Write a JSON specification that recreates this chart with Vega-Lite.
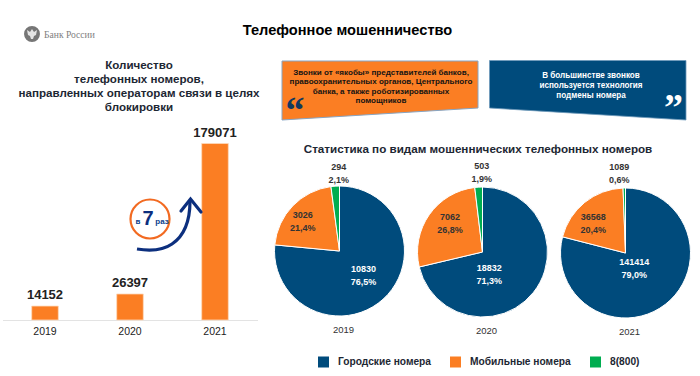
{
"$schema":"https://vega.github.io/schema/vega-lite/v6.json",
"width":700,"height":376,"padding":0,"autosize":{"type":"none"},"background":"#ffffff",
"config":{"view":{"stroke":null},"font":"Liberation Sans","text":{"font":"Liberation Sans"}},
"data":{"values":[{"note":"annotation"}]},
"datasets":{
"bars":[{"year":"2019","count":14152},{"year":"2020","count":26397},{"year":"2021","count":179071}],
"pies":[
{"year":"2019","kind":"Городские номера","rank":1,"slice":"2019-1","count":10830,"pct":76.5,"label":"10830\n76,5%"},
{"year":"2019","kind":"Мобильные номера","rank":2,"slice":"2019-2","count":3026,"pct":21.4,"label":"3026\n21,4%"},
{"year":"2019","kind":"8(800)","rank":3,"slice":"2019-3","count":294,"pct":2.1,"label":"294\n2,1%"},
{"year":"2020","kind":"Городские номера","rank":1,"slice":"2020-1","count":18832,"pct":71.3,"label":"18832\n71,3%"},
{"year":"2020","kind":"Мобильные номера","rank":2,"slice":"2020-2","count":7062,"pct":26.8,"label":"7062\n26,8%"},
{"year":"2020","kind":"8(800)","rank":3,"slice":"2020-3","count":503,"pct":1.9,"label":"503\n1,9%"},
{"year":"2021","kind":"Городские номера","rank":1,"slice":"2021-1","count":141414,"pct":79.0,"label":"141414\n79,0%"},
{"year":"2021","kind":"Мобильные номера","rank":2,"slice":"2021-2","count":36568,"pct":20.4,"label":"36568\n20,4%"},
{"year":"2021","kind":"8(800)","rank":3,"slice":"2021-3","count":1089,"pct":0.6,"label":"1089\n0,6%"}
]},
"resolve":{"scale":{"x":"independent","y":"independent","theta":"independent","color":"independent"},"axis":{"x":"independent","y":"independent"}},
"layer":[
{"mark":{"type":"rule","x":699.5,"y":0,"y2":376,"stroke":"#e6e6e6","strokeWidth":1},"encoding":{}},
{"mark":{"type":"rule","x":33,"x2":667,"y":52,"stroke":"#f57c20","strokeWidth":2},"encoding":{}},
{"mark":{"type":"point","shape":"circle","x":32,"y":34,"size":254,"filled":true,"fill":"#767676","opacity":1,"stroke":null},"encoding":{}},
{"mark":{"type":"point","shape":"M-5,-4 L-2,-2 L0,-5 L2,-2 L5,-4 L4,1 L2,2 L1,5 L-1,5 L-2,2 L-4,1 Z","x":32,"y":34,"size":4,"filled":true,"fill":"#e4e4e4","opacity":1,"stroke":null},"encoding":{}},
{"mark":{"type":"text","text":"Банк России","x":44,"y":34.5,"align":"left","baseline":"middle","font":"Liberation Serif","fontSize":9.6,"fill":"#808080"},"encoding":{}},
{"mark":{"type":"text","text":"Телефонное мошенничество","x":347.5,"y":31,"align":"center","baseline":"middle","fontSize":14.6,"fontWeight":"bold","fill":"#000000"},"encoding":{}},
{"mark":{"type":"text","text":["Количество","телефонных номеров,","направленных операторам связи в целях","блокировки"],"x":139,"y":66,"align":"center","baseline":"middle","lineHeight":14,"fontSize":11.6,"fontWeight":"bold","fill":"#1d2733"},"encoding":{}},
{"mark":{"type":"point","shape":"M282,61 L478,61 L478,108 L282,120 Z","x":0,"y":0,"size":4,"filled":true,"fill":"#fb7e23","opacity":1,"stroke":"#86a5c4","strokeWidth":1},"encoding":{}},
{"mark":{"type":"point","shape":"M489.5,60.5 L686,60.5 L686,120 L489.5,108 Z","x":0,"y":0,"size":4,"filled":true,"fill":"#004b7c","opacity":1,"stroke":"#6f9abb","strokeWidth":0.8},"encoding":{}},
{"mark":{"type":"text","text":["Звонки от «якобы» представителей банков,","правоохранительных органов, Центрального","банка, а также роботизированных","помощников"],"x":381,"y":72.7,"align":"center","baseline":"middle","lineHeight":9.6,"fontSize":8.05,"fontWeight":"bold","fill":"#141414"},"encoding":{}},
{"mark":{"type":"text","text":["В большинстве звонков","используется технология","подмены номера"],"x":591,"y":75.7,"align":"center","baseline":"middle","lineHeight":10,"fontSize":8.15,"fontWeight":"bold","fill":"#ffffff"},"encoding":{}},
{"mark":{"type":"text","text":"“","x":295,"y":112,"align":"center","baseline":"middle","font":"Liberation Serif","fontSize":38,"fontWeight":"bold","fill":"#12395f"},"encoding":{}},
{"mark":{"type":"text","text":"”","x":673.5,"y":109,"align":"center","baseline":"middle","font":"Liberation Serif","fontSize":38,"fontWeight":"bold","fill":"#ffffff"},"encoding":{}},
{"mark":{"type":"text","text":"Статистика по видам мошеннических телефонных номеров","x":478,"y":149.5,"align":"center","baseline":"middle","fontSize":11.66,"fontWeight":"bold","fill":"#1d2733"},"encoding":{}},
{"data":{"name":"bars"},"mark":{"type":"bar","fill":"#fb7e23","stroke":"#fdd9bd","strokeWidth":0.8},
 "encoding":{
  "x":{"field":"year","type":"nominal","sort":null,"scale":{"type":"band","domain":["2019","2020","2021"],"range":[2.5,257.5],"paddingInner":0.687,"paddingOuter":0.3435},"axis":{"title":null,"offset":-56,"ticks":false,"domainColor":"#e3e3e3","domainWidth":1,"labelAngle":0,"labelColor":"#222222","labelFontSize":10.5,"labelPadding":6,"labelFont":"Liberation Sans","grid":false}},
  "y":{"field":"count","type":"quantitative","scale":{"domain":[0,179071],"range":[320,143.5]},"axis":null}}},
{"data":{"name":"bars"},"mark":{"type":"text","dy":-11,"baseline":"middle","align":"center","fontSize":13,"fontWeight":"bold","fill":"#222222"},
 "encoding":{
  "x":{"field":"year","type":"nominal","scale":{"type":"band","domain":["2019","2020","2021"],"range":[2.5,257.5],"paddingInner":0.687,"paddingOuter":0.3435},"axis":null},
  "y":{"field":"count","type":"quantitative","scale":{"domain":[0,179071],"range":[320,143.5]},"axis":null},
  "text":{"field":"count","type":"quantitative","format":"d"}}},
{"mark":{"type":"point","shape":"circle","x":150,"y":219,"size":1520,"filled":false,"stroke":"#f26a21","strokeWidth":2.2,"opacity":1,"fill":"#ffffff"},"encoding":{}},
{"mark":{"type":"text","text":"в","x":138,"y":221.5,"align":"center","baseline":"middle","fontSize":8,"fontWeight":"bold","fill":"#0c3f8c"},"encoding":{}},
{"mark":{"type":"text","text":"7","x":148,"y":219,"align":"center","baseline":"middle","fontSize":20,"fontWeight":"bold","fill":"#0c2f7e"},"encoding":{}},
{"mark":{"type":"text","text":"раз","x":162,"y":222,"align":"center","baseline":"middle","fontSize":8,"fontWeight":"bold","fill":"#0c3f8c"},"encoding":{}},
{"mark":{"type":"point","shape":"M137,249 C150,251 162,251 172,244 C184,236 190,222 190,201","x":0,"y":0,"size":4,"filled":false,"fill":null,"stroke":"#0c2f7e","strokeWidth":3.2,"opacity":1},"encoding":{}},
{"mark":{"type":"point","shape":"M181,211 L190.5,199 L201,212","x":0,"y":0,"size":4,"filled":false,"fill":null,"stroke":"#0c2f7e","strokeWidth":3.2,"opacity":1,"strokeCap":"round"},"encoding":{}},
{"data":{"name":"pies"},
 "transform":[{"stack":"pct","groupby":["year"],"sort":[{"field":"rank","order":"ascending"}],"as":["v0","v1"]}],
 "mark":{"type":"arc","outerRadius":65,"stroke":"#ffffff","strokeWidth":1},
 "encoding":{
  "x":{"field":"year","type":"nominal","scale":{"type":"point","domain":["2019","2020","2021"],"range":[339.5,625.5],"padding":0},"axis":null},
  "y":{"field":"year","type":"nominal","scale":{"type":"point","domain":["2019","2020","2021"],"range":[251,253],"padding":0},"axis":null},
  "theta":{"field":"v0","type":"quantitative","scale":{"domain":[0,100]}},
  "theta2":{"field":"v1"},
  "color":{"field":"kind","type":"nominal","scale":{"domain":["Городские номера","Мобильные номера","8(800)"],"range":["#004b7c","#fb7e23","#00ad50"]},
   "legend":{"title":null,"orient":"none","legendX":318,"legendY":356.5,"direction":"horizontal","symbolType":"square","symbolSize":121,"symbolStrokeWidth":0,"labelFontSize":10.2,"labelFontWeight":"bold","labelColor":"#1d2733","labelFont":"Liberation Sans","labelOffset":9,"columnPadding":19,"gridAlign":"none",
    "encode":{"symbols":{"update":{"fill":{"signal":"datum.value==='Городские номера'?'#0a3a84':datum.value==='Мобильные номера'?'#f58025':'#00ad50'"}}}}}}}},
{"data":{"name":"pies"},"transform":[{"filter":"datum.slice==='2019-1'"}],"mark":{"type":"text","dx":24,"dy":17.5,"lineBreak":"\n","lineHeight":13,"align":"center","baseline":"middle","fontSize":9,"fontWeight":"bold","fill":"#ffffff"},"encoding":{"x":{"field":"year","type":"nominal","scale":{"type":"point","domain":["2019","2020","2021"],"range":[339.5,625.5],"padding":0},"axis":null},"y":{"field":"year","type":"nominal","scale":{"type":"point","domain":["2019","2020","2021"],"range":[251,253],"padding":0},"axis":null},"text":{"field":"label","type":"nominal"}}},
{"data":{"name":"pies"},"transform":[{"filter":"datum.slice==='2019-2'"}],"mark":{"type":"text","dx":-36.7,"dy":-36.2,"lineBreak":"\n","lineHeight":13,"align":"center","baseline":"middle","fontSize":9,"fontWeight":"bold","fill":"#333333"},"encoding":{"x":{"field":"year","type":"nominal","scale":{"type":"point","domain":["2019","2020","2021"],"range":[339.5,625.5],"padding":0},"axis":null},"y":{"field":"year","type":"nominal","scale":{"type":"point","domain":["2019","2020","2021"],"range":[251,253],"padding":0},"axis":null},"text":{"field":"label","type":"nominal"}}},
{"data":{"name":"pies"},"transform":[{"filter":"datum.slice==='2019-3'"}],"mark":{"type":"text","dx":-0.7,"dy":-84.5,"lineBreak":"\n","lineHeight":13,"align":"center","baseline":"middle","fontSize":9,"fontWeight":"bold","fill":"#333333"},"encoding":{"x":{"field":"year","type":"nominal","scale":{"type":"point","domain":["2019","2020","2021"],"range":[339.5,625.5],"padding":0},"axis":null},"y":{"field":"year","type":"nominal","scale":{"type":"point","domain":["2019","2020","2021"],"range":[251,253],"padding":0},"axis":null},"text":{"field":"label","type":"nominal"}}},
{"data":{"name":"pies"},"transform":[{"filter":"datum.slice==='2020-1'"}],"mark":{"type":"text","dx":6.8,"dy":15.8,"lineBreak":"\n","lineHeight":13,"align":"center","baseline":"middle","fontSize":9,"fontWeight":"bold","fill":"#ffffff"},"encoding":{"x":{"field":"year","type":"nominal","scale":{"type":"point","domain":["2019","2020","2021"],"range":[339.5,625.5],"padding":0},"axis":null},"y":{"field":"year","type":"nominal","scale":{"type":"point","domain":["2019","2020","2021"],"range":[251,253],"padding":0},"axis":null},"text":{"field":"label","type":"nominal"}}},
{"data":{"name":"pies"},"transform":[{"filter":"datum.slice==='2020-2'"}],"mark":{"type":"text","dx":-32.5,"dy":-35.2,"lineBreak":"\n","lineHeight":13,"align":"center","baseline":"middle","fontSize":9,"fontWeight":"bold","fill":"#333333"},"encoding":{"x":{"field":"year","type":"nominal","scale":{"type":"point","domain":["2019","2020","2021"],"range":[339.5,625.5],"padding":0},"axis":null},"y":{"field":"year","type":"nominal","scale":{"type":"point","domain":["2019","2020","2021"],"range":[251,253],"padding":0},"axis":null},"text":{"field":"label","type":"nominal"}}},
{"data":{"name":"pies"},"transform":[{"filter":"datum.slice==='2020-3'"}],"mark":{"type":"text","dx":-0.8,"dy":-86.5,"lineBreak":"\n","lineHeight":13,"align":"center","baseline":"middle","fontSize":9,"fontWeight":"bold","fill":"#333333"},"encoding":{"x":{"field":"year","type":"nominal","scale":{"type":"point","domain":["2019","2020","2021"],"range":[339.5,625.5],"padding":0},"axis":null},"y":{"field":"year","type":"nominal","scale":{"type":"point","domain":["2019","2020","2021"],"range":[251,253],"padding":0},"axis":null},"text":{"field":"label","type":"nominal"}}},
{"data":{"name":"pies"},"transform":[{"filter":"datum.slice==='2021-1'"}],"mark":{"type":"text","dx":8.8,"dy":9.2,"lineBreak":"\n","lineHeight":13,"align":"center","baseline":"middle","fontSize":9,"fontWeight":"bold","fill":"#ffffff"},"encoding":{"x":{"field":"year","type":"nominal","scale":{"type":"point","domain":["2019","2020","2021"],"range":[339.5,625.5],"padding":0},"axis":null},"y":{"field":"year","type":"nominal","scale":{"type":"point","domain":["2019","2020","2021"],"range":[251,253],"padding":0},"axis":null},"text":{"field":"label","type":"nominal"}}},
{"data":{"name":"pies"},"transform":[{"filter":"datum.slice==='2021-2'"}],"mark":{"type":"text","dx":-32.2,"dy":-36.5,"lineBreak":"\n","lineHeight":13,"align":"center","baseline":"middle","fontSize":9,"fontWeight":"bold","fill":"#333333"},"encoding":{"x":{"field":"year","type":"nominal","scale":{"type":"point","domain":["2019","2020","2021"],"range":[339.5,625.5],"padding":0},"axis":null},"y":{"field":"year","type":"nominal","scale":{"type":"point","domain":["2019","2020","2021"],"range":[251,253],"padding":0},"axis":null},"text":{"field":"label","type":"nominal"}}},
{"data":{"name":"pies"},"transform":[{"filter":"datum.slice==='2021-3'"}],"mark":{"type":"text","dx":-6.2,"dy":-86.5,"lineBreak":"\n","lineHeight":13,"align":"center","baseline":"middle","fontSize":9,"fontWeight":"bold","fill":"#333333"},"encoding":{"x":{"field":"year","type":"nominal","scale":{"type":"point","domain":["2019","2020","2021"],"range":[339.5,625.5],"padding":0},"axis":null},"y":{"field":"year","type":"nominal","scale":{"type":"point","domain":["2019","2020","2021"],"range":[251,253],"padding":0},"axis":null},"text":{"field":"label","type":"nominal"}}},
{"data":{"name":"bars"},"mark":{"type":"text","dx":4,"dy":78.5,"align":"center","baseline":"middle","fontSize":9.5,"fill":"#333333"},
 "encoding":{
  "x":{"field":"year","type":"nominal","scale":{"type":"point","domain":["2019","2020","2021"],"range":[339.5,625.5],"padding":0},"axis":null},
  "y":{"field":"year","type":"nominal","scale":{"type":"point","domain":["2019","2020","2021"],"range":[251,253],"padding":0},"axis":null},
  "text":{"field":"year","type":"nominal"}}}
]}
